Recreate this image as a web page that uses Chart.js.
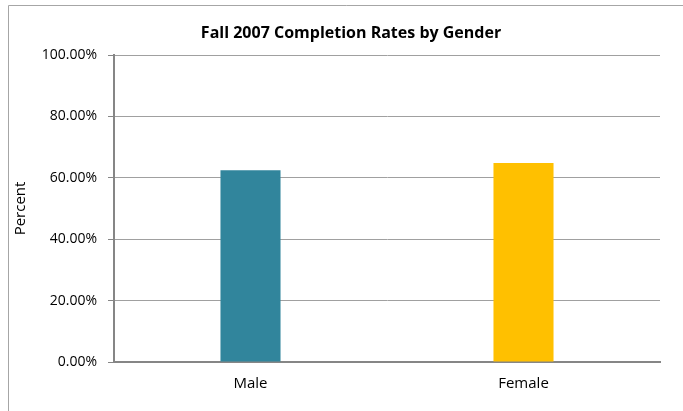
<!DOCTYPE html>
<html>
<head>
<meta charset="utf-8">
<script src="https://cdn.jsdelivr.net/npm/chart.js@4/dist/chart.umd.min.js"></script>
<style>
  html, body { margin: 0; padding: 0; background: #fff; }
  #chart { display: block; }
</style>
</head>
<body>
<canvas id="chart" width="683" height="411"></canvas>
<script>
// Данные графика
const categories = ["Male", "Female"];
const rates = [62.5, 64.8];
const barColors = ["#31859C", "#FFC000"];
const yTicks = [0, 20, 40, 60, 80, 100];
const chartTitle = "Fall 2007 Completion Rates by Gender";
const FONT = "'Open Sans', Lato, sans-serif";

// рамка и заголовок рисуются вручную
const framePlugin = {
  id: "frame",
  afterDraw(chart) {
    const ctx = chart.ctx;
    ctx.save();
    ctx.strokeStyle = "#a6a6a6";
    ctx.lineWidth = 1;
    ctx.beginPath();
    ctx.moveTo(8.5, 420);
    ctx.lineTo(8.5, 5.5);
    ctx.lineTo(690, 5.5);
    ctx.stroke();
    ctx.fillStyle = "#000";
    ctx.font = "bold 16px " + FONT;
    ctx.textAlign = "center";
    ctx.textBaseline = "middle";
    ctx.fillText(chartTitle, 351, 33);
    ctx.restore();
  },
};

new Chart(document.getElementById("chart"), {
  type: "bar",
  data: {
    labels: categories,
    datasets: [{
      data: rates,
      backgroundColor: barColors,
      categoryPercentage: 1,
      barPercentage: 0.22,
    }],
  },
  options: {
    responsive: false,
    animation: false,
    layout: { padding: { top: 55, right: 23, left: 0, bottom: 0 } },
    plugins: {
      legend: { display: false },
      tooltip: { enabled: false },
      title: { display: false },
    },
    scales: {
      x: {
        grid: { display: false, drawTicks: false },
        border: { display: true, color: "#868686", width: 2 },
        ticks: { color: "#000", font: { family: FONT, size: 15 }, padding: 13 },
        afterFit(scale) { scale.height = 49; },
      },
      y: {
        min: 0,
        max: 100,
        afterBuildTicks(scale) { scale.ticks = yTicks.map(v => ({ value: v })); },
        grid: { color: "#a0a0a0", lineWidth: 1, tickLength: 6, tickColor: "#868686" },
        border: { display: true, color: "#868686", width: 2 },
        ticks: {
          color: "#000",
          font: { family: FONT, size: 14 },
          padding: 11,
          callback: v => v.toFixed(2) + "%",
        },
        title: {
          display: true,
          text: "Percent",
          color: "#000",
          font: { family: FONT, size: 15 },
          padding: { top: 12, bottom: 0 },
        },
        afterFit(scale) { scale.width = 114; },
      },
    },
  },
  plugins: [framePlugin],
});
</script>
</body>
</html>
